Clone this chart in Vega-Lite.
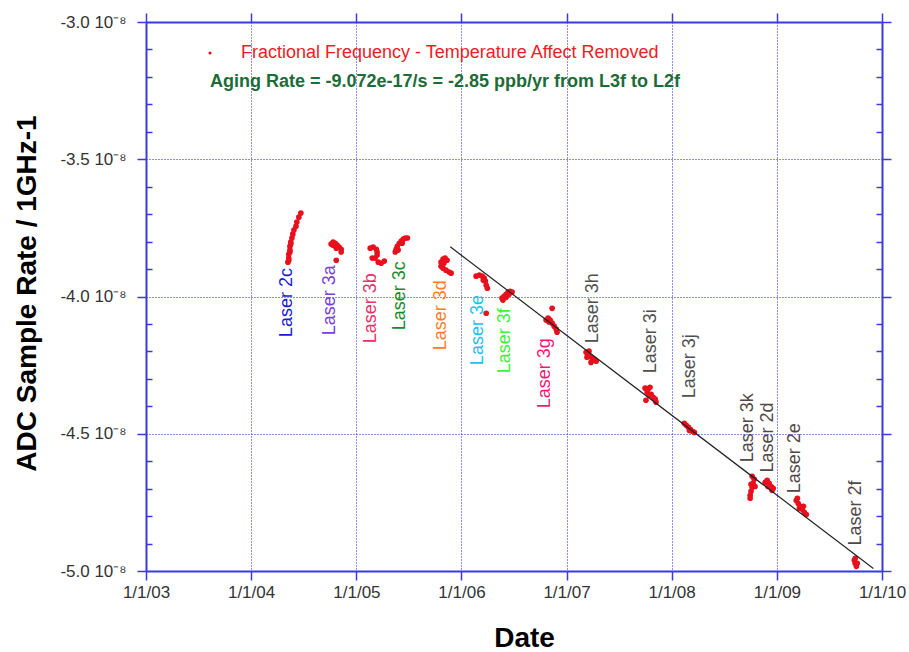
{
  "$schema": "https://vega.github.io/schema/vega-lite/v6.json",
  "width": 736,
  "height": 549,
  "autosize": "none",
  "padding": {"left": 146, "top": 22, "right": 27, "bottom": 81},
  "background": "white",
  "config": {"view": {"stroke": null}, "font": "Liberation Sans"},
  "datasets": {
    "points": [
      {"date": "2004-05-08", "rate": -3.875e-8, "laser": "2c"},
      {"date": "2004-05-11", "rate": -3.860e-8, "laser": "2c"},
      {"date": "2004-05-11", "rate": -3.868e-8, "laser": "2c"},
      {"date": "2004-05-11", "rate": -3.846e-8, "laser": "2c"},
      {"date": "2004-05-15", "rate": -3.838e-8, "laser": "2c"},
      {"date": "2004-05-15", "rate": -3.831e-8, "laser": "2c"},
      {"date": "2004-05-15", "rate": -3.817e-8, "laser": "2c"},
      {"date": "2004-05-18", "rate": -3.809e-8, "laser": "2c"},
      {"date": "2004-05-18", "rate": -3.802e-8, "laser": "2c"},
      {"date": "2004-05-22", "rate": -3.787e-8, "laser": "2c"},
      {"date": "2004-05-25", "rate": -3.773e-8, "laser": "2c"},
      {"date": "2004-05-29", "rate": -3.758e-8, "laser": "2c"},
      {"date": "2004-06-05", "rate": -3.744e-8, "laser": "2c"},
      {"date": "2004-06-08", "rate": -3.729e-8, "laser": "2c"},
      {"date": "2004-06-15", "rate": -3.711e-8, "laser": "2c"},
      {"date": "2004-06-22", "rate": -3.696e-8, "laser": "2c"},
      {"date": "2004-10-05", "rate": -3.809e-8, "laser": "3a"},
      {"date": "2004-10-12", "rate": -3.802e-8, "laser": "3a"},
      {"date": "2004-10-12", "rate": -3.813e-8, "laser": "3a"},
      {"date": "2004-10-19", "rate": -3.806e-8, "laser": "3a"},
      {"date": "2004-10-23", "rate": -3.824e-8, "laser": "3a"},
      {"date": "2004-10-26", "rate": -3.813e-8, "laser": "3a"},
      {"date": "2004-11-02", "rate": -3.820e-8, "laser": "3a"},
      {"date": "2004-11-09", "rate": -3.828e-8, "laser": "3a"},
      {"date": "2004-11-09", "rate": -3.838e-8, "laser": "3a"},
      {"date": "2004-10-23", "rate": -3.868e-8, "laser": "3a"},
      {"date": "2005-02-18", "rate": -3.824e-8, "laser": "3b"},
      {"date": "2005-02-28", "rate": -3.820e-8, "laser": "3b"},
      {"date": "2005-03-11", "rate": -3.828e-8, "laser": "3b"},
      {"date": "2005-03-14", "rate": -3.838e-8, "laser": "3b"},
      {"date": "2005-03-14", "rate": -3.849e-8, "laser": "3b"},
      {"date": "2005-03-07", "rate": -3.860e-8, "laser": "3b"},
      {"date": "2005-02-25", "rate": -3.860e-8, "laser": "3b"},
      {"date": "2005-03-18", "rate": -3.875e-8, "laser": "3b"},
      {"date": "2005-03-28", "rate": -3.879e-8, "laser": "3b"},
      {"date": "2005-04-08", "rate": -3.871e-8, "laser": "3b"},
      {"date": "2005-05-16", "rate": -3.838e-8, "laser": "3c"},
      {"date": "2005-05-19", "rate": -3.828e-8, "laser": "3c"},
      {"date": "2005-05-23", "rate": -3.817e-8, "laser": "3c"},
      {"date": "2005-05-26", "rate": -3.831e-8, "laser": "3c"},
      {"date": "2005-05-30", "rate": -3.806e-8, "laser": "3c"},
      {"date": "2005-06-06", "rate": -3.798e-8, "laser": "3c"},
      {"date": "2005-06-09", "rate": -3.806e-8, "laser": "3c"},
      {"date": "2005-06-13", "rate": -3.791e-8, "laser": "3c"},
      {"date": "2005-06-20", "rate": -3.787e-8, "laser": "3c"},
      {"date": "2005-06-27", "rate": -3.787e-8, "laser": "3c"},
      {"date": "2005-10-22", "rate": -3.875e-8, "laser": "3d"},
      {"date": "2005-10-22", "rate": -3.890e-8, "laser": "3d"},
      {"date": "2005-10-29", "rate": -3.864e-8, "laser": "3d"},
      {"date": "2005-10-29", "rate": -3.897e-8, "laser": "3d"},
      {"date": "2005-11-01", "rate": -3.879e-8, "laser": "3d"},
      {"date": "2005-11-05", "rate": -3.860e-8, "laser": "3d"},
      {"date": "2005-11-08", "rate": -3.904e-8, "laser": "3d"},
      {"date": "2005-11-12", "rate": -3.868e-8, "laser": "3d"},
      {"date": "2005-11-19", "rate": -3.911e-8, "laser": "3d"},
      {"date": "2005-11-26", "rate": -3.915e-8, "laser": "3d"},
      {"date": "2006-02-21", "rate": -3.926e-8, "laser": "3e"},
      {"date": "2006-03-04", "rate": -3.922e-8, "laser": "3e"},
      {"date": "2006-03-14", "rate": -3.926e-8, "laser": "3e"},
      {"date": "2006-03-18", "rate": -3.941e-8, "laser": "3e"},
      {"date": "2006-03-21", "rate": -3.933e-8, "laser": "3e"},
      {"date": "2006-03-25", "rate": -3.944e-8, "laser": "3e"},
      {"date": "2006-03-28", "rate": -3.959e-8, "laser": "3e"},
      {"date": "2006-04-01", "rate": -3.970e-8, "laser": "3e"},
      {"date": "2006-03-28", "rate": -4.061e-8, "laser": "3e"},
      {"date": "2006-05-22", "rate": -4.006e-8, "laser": "3f"},
      {"date": "2006-05-25", "rate": -4.013e-8, "laser": "3f"},
      {"date": "2006-05-29", "rate": -3.999e-8, "laser": "3f"},
      {"date": "2006-06-05", "rate": -3.992e-8, "laser": "3f"},
      {"date": "2006-06-05", "rate": -4.003e-8, "laser": "3f"},
      {"date": "2006-06-12", "rate": -3.984e-8, "laser": "3f"},
      {"date": "2006-06-15", "rate": -3.992e-8, "laser": "3f"},
      {"date": "2006-06-19", "rate": -3.981e-8, "laser": "3f"},
      {"date": "2006-06-26", "rate": -3.984e-8, "laser": "3f"},
      {"date": "2006-10-22", "rate": -4.086e-8, "laser": "3g"},
      {"date": "2006-10-29", "rate": -4.079e-8, "laser": "3g"},
      {"date": "2006-11-01", "rate": -4.093e-8, "laser": "3g"},
      {"date": "2006-11-05", "rate": -4.086e-8, "laser": "3g"},
      {"date": "2006-11-12", "rate": -4.097e-8, "laser": "3g"},
      {"date": "2006-11-12", "rate": -4.043e-8, "laser": "3g"},
      {"date": "2006-11-19", "rate": -4.108e-8, "laser": "3g"},
      {"date": "2006-11-26", "rate": -4.119e-8, "laser": "3g"},
      {"date": "2006-11-29", "rate": -4.130e-8, "laser": "3g"},
      {"date": "2007-03-10", "rate": -4.203e-8, "laser": "3h"},
      {"date": "2007-03-13", "rate": -4.221e-8, "laser": "3h"},
      {"date": "2007-03-17", "rate": -4.210e-8, "laser": "3h"},
      {"date": "2007-03-20", "rate": -4.199e-8, "laser": "3h"},
      {"date": "2007-03-24", "rate": -4.218e-8, "laser": "3h"},
      {"date": "2007-03-27", "rate": -4.240e-8, "laser": "3h"},
      {"date": "2007-03-31", "rate": -4.225e-8, "laser": "3h"},
      {"date": "2007-04-07", "rate": -4.229e-8, "laser": "3h"},
      {"date": "2007-04-14", "rate": -4.236e-8, "laser": "3h"},
      {"date": "2007-10-01", "rate": -4.334e-8, "laser": "3i"},
      {"date": "2007-10-04", "rate": -4.378e-8, "laser": "3i"},
      {"date": "2007-10-08", "rate": -4.349e-8, "laser": "3i"},
      {"date": "2007-10-11", "rate": -4.338e-8, "laser": "3i"},
      {"date": "2007-10-15", "rate": -4.360e-8, "laser": "3i"},
      {"date": "2007-10-18", "rate": -4.331e-8, "laser": "3i"},
      {"date": "2007-10-22", "rate": -4.356e-8, "laser": "3i"},
      {"date": "2007-10-29", "rate": -4.367e-8, "laser": "3i"},
      {"date": "2007-11-05", "rate": -4.374e-8, "laser": "3i"},
      {"date": "2007-11-08", "rate": -4.385e-8, "laser": "3i"},
      {"date": "2008-02-14", "rate": -4.462e-8, "laser": "3j"},
      {"date": "2008-02-21", "rate": -4.469e-8, "laser": "3j"},
      {"date": "2008-02-28", "rate": -4.476e-8, "laser": "3j"},
      {"date": "2008-03-03", "rate": -4.488e-8, "laser": "3j"},
      {"date": "2008-03-06", "rate": -4.484e-8, "laser": "3j"},
      {"date": "2008-03-13", "rate": -4.491e-8, "laser": "3j"},
      {"date": "2008-03-20", "rate": -4.495e-8, "laser": "3j"},
      {"date": "2008-09-30", "rate": -4.724e-8, "laser": "3k"},
      {"date": "2008-09-30", "rate": -4.735e-8, "laser": "3k"},
      {"date": "2008-10-03", "rate": -4.710e-8, "laser": "3k"},
      {"date": "2008-10-03", "rate": -4.684e-8, "laser": "3k"},
      {"date": "2008-10-07", "rate": -4.655e-8, "laser": "3k"},
      {"date": "2008-10-07", "rate": -4.695e-8, "laser": "3k"},
      {"date": "2008-10-10", "rate": -4.681e-8, "laser": "3k"},
      {"date": "2008-10-14", "rate": -4.666e-8, "laser": "3k"},
      {"date": "2008-10-17", "rate": -4.692e-8, "laser": "3k"},
      {"date": "2008-11-21", "rate": -4.677e-8, "laser": "2d"},
      {"date": "2008-11-28", "rate": -4.670e-8, "laser": "2d"},
      {"date": "2008-12-01", "rate": -4.692e-8, "laser": "2d"},
      {"date": "2008-12-05", "rate": -4.681e-8, "laser": "2d"},
      {"date": "2008-12-12", "rate": -4.692e-8, "laser": "2d"},
      {"date": "2008-12-15", "rate": -4.706e-8, "laser": "2d"},
      {"date": "2008-12-19", "rate": -4.699e-8, "laser": "2d"},
      {"date": "2009-03-09", "rate": -4.743e-8, "laser": "2e"},
      {"date": "2009-03-13", "rate": -4.735e-8, "laser": "2e"},
      {"date": "2009-03-16", "rate": -4.754e-8, "laser": "2e"},
      {"date": "2009-03-20", "rate": -4.772e-8, "laser": "2e"},
      {"date": "2009-03-23", "rate": -4.764e-8, "laser": "2e"},
      {"date": "2009-03-30", "rate": -4.775e-8, "laser": "2e"},
      {"date": "2009-04-03", "rate": -4.764e-8, "laser": "2e"},
      {"date": "2009-04-06", "rate": -4.786e-8, "laser": "2e"},
      {"date": "2009-04-13", "rate": -4.794e-8, "laser": "2e"},
      {"date": "2009-09-27", "rate": -4.961e-8, "laser": "2f"},
      {"date": "2009-09-30", "rate": -4.954e-8, "laser": "2f"},
      {"date": "2009-09-30", "rate": -4.972e-8, "laser": "2f"},
      {"date": "2009-10-04", "rate": -4.983e-8, "laser": "2f"},
      {"date": "2009-10-07", "rate": -4.972e-8, "laser": "2f"}
    ],
    "labels": [
      {"date": "2004-05-05", "rate": -4.148e-8, "label": "Laser 2c"},
      {"date": "2004-10-02", "rate": -4.141e-8, "label": "Laser 3a"},
      {"date": "2005-02-21", "rate": -4.170e-8, "label": "Laser 3b"},
      {"date": "2005-06-02", "rate": -4.123e-8, "label": "Laser 3c"},
      {"date": "2005-10-22", "rate": -4.196e-8, "label": "Laser 3d"},
      {"date": "2006-02-28", "rate": -4.250e-8, "label": "Laser 3e"},
      {"date": "2006-06-02", "rate": -4.280e-8, "label": "Laser 3f"},
      {"date": "2006-10-19", "rate": -4.407e-8, "label": "Laser 3g"},
      {"date": "2007-04-03", "rate": -4.170e-8, "label": "Laser 3h"},
      {"date": "2007-10-22", "rate": -4.280e-8, "label": "Laser 3i"},
      {"date": "2008-03-05", "rate": -4.371e-8, "label": "Laser 3j"},
      {"date": "2008-09-23", "rate": -4.604e-8, "label": "Laser 3k"},
      {"date": "2008-12-02", "rate": -4.641e-8, "label": "Laser 2d"},
      {"date": "2009-03-06", "rate": -4.717e-8, "label": "Laser 2e"},
      {"date": "2009-10-04", "rate": -4.907e-8, "label": "Laser 2f"}
    ],
    "fit": [
      {"date": "2005-11-23", "rate": -3.819e-8},
      {"date": "2009-12-02", "rate": -4.991e-8}
    ],
    "notes": [
      {"date": "2003-08-11", "rate": -3.217e-8, "note": "Aging Rate = -9.072e-17/s = -2.85 ppb/yr from L3f to L2f"}
    ]
  },
  "resolve": {
    "axis": {"x": "independent", "y": "independent"},
    "scale": {"color": "independent"},
    "legend": {"color": "independent"}
  },
  "layer": [
    {
      "data": {"name": "points"},
      "mark": {"type": "circle", "size": 32, "opacity": 1},
      "encoding": {
        "x": {
          "field": "date", "type": "temporal",
          "scale": {"type": "utc", "nice": false, "domain": [{"year": 2003, "month": 1, "date": 1, "utc": true}, {"year": 2010, "month": 1, "date": 1, "utc": true}]},
          "axis": {
            "orient": "bottom",
            "values": [{"year": 2003, "month": 1, "date": 1, "utc": true}, {"year": 2004, "month": 1, "date": 1, "utc": true}, {"year": 2005, "month": 1, "date": 1, "utc": true}, {"year": 2006, "month": 1, "date": 1, "utc": true}, {"year": 2007, "month": 1, "date": 1, "utc": true}, {"year": 2008, "month": 1, "date": 1, "utc": true}, {"year": 2009, "month": 1, "date": 1, "utc": true}, {"year": 2010, "month": 1, "date": 1, "utc": true}],
            "format": "%-m/%-d/%y",
            "grid": true, "gridDash": [1, 2], "gridColor": "#1a1af0", "gridWidth": 1,
            "domain": true, "domainColor": "#3a3ade", "domainWidth": 2,
            "ticks": true, "tickColor": "#3a3ade", "tickWidth": 1.5, "tickSize": 9,
            "labelFontSize": 17, "labelColor": "#333333", "labelPadding": 4, "labelFlush": false, "labelOverlap": false,
            "title": "Date", "titleFontSize": 28, "titleFontWeight": "bold", "titleColor": "#000000",
            "titleX": 378, "titleY": 75, "titleBaseline": "alphabetic",
            "encode": {"ticks": {"update": {"y": {"value": -10}}}}
          }
        },
        "y": {
          "field": "rate", "type": "quantitative",
          "scale": {"domain": [-5e-8, -3e-8], "nice": false, "zero": false},
          "axis": {
            "orient": "left",
            "values": [-5e-8, -4.5e-8, -4e-8, -3.5e-8, -3e-8],
            "labelExpr": "replace(format(datum.value * 1e8, '.1f'), '−', '-') + ' 10⁻⁸'",
            "grid": true, "gridDash": [1, 2], "gridColor": "#1a1af0", "gridWidth": 1,
            "domain": true, "domainColor": "#3a3ade", "domainWidth": 2,
            "ticks": true, "tickColor": "#3a3ade", "tickWidth": 1.5, "tickSize": 9,
            "labelFontSize": 17, "labelColor": "#333333", "labelPadding": 11,
            "title": "ADC Sample Rate / 1GHz-1", "titleFontSize": 28, "titleFontWeight": "bold", "titleColor": "#000000",
            "titleX": -111, "titleY": 271, "titleBaseline": "alphabetic", "titleAngle": 270,
            "encode": {"ticks": {"update": {"x": {"value": 10}}}}
          }
        },
        "color": {
          "datum": "Fractional Frequency - Temperature Affect Removed",
          "scale": {"range": ["#e8101c"]},
          "legend": {
            "orient": "none", "legendX": 55, "legendY": 22, "title": null,
            "padding": 0, "labelFontSize": 18, "labelColor": "#ee1c25", "labelOffset": 22,
            "labelLimit": 1000, "symbolSize": 10, "symbolType": "circle", "symbolStrokeWidth": 0,
            "symbolFillColor": "#b01010"
          }
        }
      }
    },
    {
      "data": {"name": "fit"},
      "mark": {"type": "line", "color": "#222222", "strokeWidth": 1.2},
      "encoding": {
        "x": {
          "field": "date", "type": "temporal",
          "scale": {"type": "utc", "nice": false, "domain": [{"year": 2003, "month": 1, "date": 1, "utc": true}, {"year": 2010, "month": 1, "date": 1, "utc": true}]},
          "axis": {
            "orient": "top",
            "values": [{"year": 2003, "month": 1, "date": 1, "utc": true}, {"year": 2004, "month": 1, "date": 1, "utc": true}, {"year": 2005, "month": 1, "date": 1, "utc": true}, {"year": 2006, "month": 1, "date": 1, "utc": true}, {"year": 2007, "month": 1, "date": 1, "utc": true}, {"year": 2008, "month": 1, "date": 1, "utc": true}, {"year": 2009, "month": 1, "date": 1, "utc": true}, {"year": 2010, "month": 1, "date": 1, "utc": true}],
            "labels": false, "grid": false, "title": null,
            "domain": true, "domainColor": "#3a3ade", "domainWidth": 2,
            "ticks": true, "tickColor": "#3a3ade", "tickWidth": 1.5, "tickSize": 9,
            "encode": {"ticks": {"update": {"y": {"value": 10}}}}
          }
        },
        "y": {
          "field": "rate", "type": "quantitative",
          "scale": {"domain": [-5e-8, -3e-8], "nice": false, "zero": false},
          "axis": {
            "orient": "right",
            "values": [-5e-8, -4.5e-8, -4e-8, -3.5e-8, -3e-8],
            "labels": false, "grid": false, "title": null,
            "domain": true, "domainColor": "#3a3ade", "domainWidth": 2,
            "ticks": true, "tickColor": "#3a3ade", "tickWidth": 1.5, "tickSize": 9,
            "encode": {"ticks": {"update": {"x": {"value": -10}}}}
          }
        }
      }
    },
    {
      "data": {"name": "labels"},
      "mark": {"type": "text", "angle": 270, "align": "left", "baseline": "middle", "fontSize": 18, "font": "Liberation Sans"},
      "encoding": {
        "x": {
          "field": "date", "type": "temporal",
          "scale": {"type": "utc", "nice": false, "domain": [{"year": 2003, "month": 1, "date": 1, "utc": true}, {"year": 2010, "month": 1, "date": 1, "utc": true}]},
          "axis": null
        },
        "y": {
          "field": "rate", "type": "quantitative",
          "scale": {"domain": [-5e-8, -3e-8], "nice": false, "zero": false},
          "axis": {
            "orient": "left",
            "values": [-4.9e-8, -4.8e-8, -4.7e-8, -4.6e-8, -4.4e-8, -4.3e-8, -4.2e-8, -4.1e-8, -3.9e-8, -3.8e-8, -3.7e-8, -3.6e-8, -3.4e-8, -3.3e-8, -3.2e-8, -3.1e-8],
            "labels": false, "grid": false, "domain": false, "title": null,
            "ticks": true, "tickColor": "#3a3ade", "tickWidth": 1.5, "tickSize": -6
          }
        },
        "text": {"field": "label"},
        "color": {
          "field": "label", "type": "nominal", "legend": null,
          "scale": {
            "domain": ["Laser 2c", "Laser 3a", "Laser 3b", "Laser 3c", "Laser 3d", "Laser 3e", "Laser 3f", "Laser 3g", "Laser 3h", "Laser 3i", "Laser 3j", "Laser 3k", "Laser 2d", "Laser 2e", "Laser 2f"],
            "range": ["#1c1ccf", "#7a40e0", "#e8306a", "#178a2c", "#ff7d2a", "#1ec0f2", "#3ef03e", "#f01a7a", "#505050", "#505050", "#505050", "#524848", "#524848", "#524848", "#524848"]
          }
        }
      }
    },
    {
      "data": {"name": "notes"},
      "mark": {"type": "text", "align": "left", "baseline": "middle", "fontSize": 18, "fontWeight": "bold", "font": "Liberation Sans", "color": "#1d6b38"},
      "encoding": {
        "x": {
          "field": "date", "type": "temporal",
          "scale": {"type": "utc", "nice": false, "domain": [{"year": 2003, "month": 1, "date": 1, "utc": true}, {"year": 2010, "month": 1, "date": 1, "utc": true}]},
          "axis": null
        },
        "y": {
          "field": "rate", "type": "quantitative",
          "scale": {"domain": [-5e-8, -3e-8], "nice": false, "zero": false},
          "axis": {
            "orient": "right",
            "values": [-4.9e-8, -4.8e-8, -4.7e-8, -4.6e-8, -4.4e-8, -4.3e-8, -4.2e-8, -4.1e-8, -3.9e-8, -3.8e-8, -3.7e-8, -3.6e-8, -3.4e-8, -3.3e-8, -3.2e-8, -3.1e-8],
            "labels": false, "grid": false, "domain": false, "title": null,
            "ticks": true, "tickColor": "#3a3ade", "tickWidth": 1.5, "tickSize": -6
          }
        },
        "text": {"field": "note"}
      }
    }
  ]
}
